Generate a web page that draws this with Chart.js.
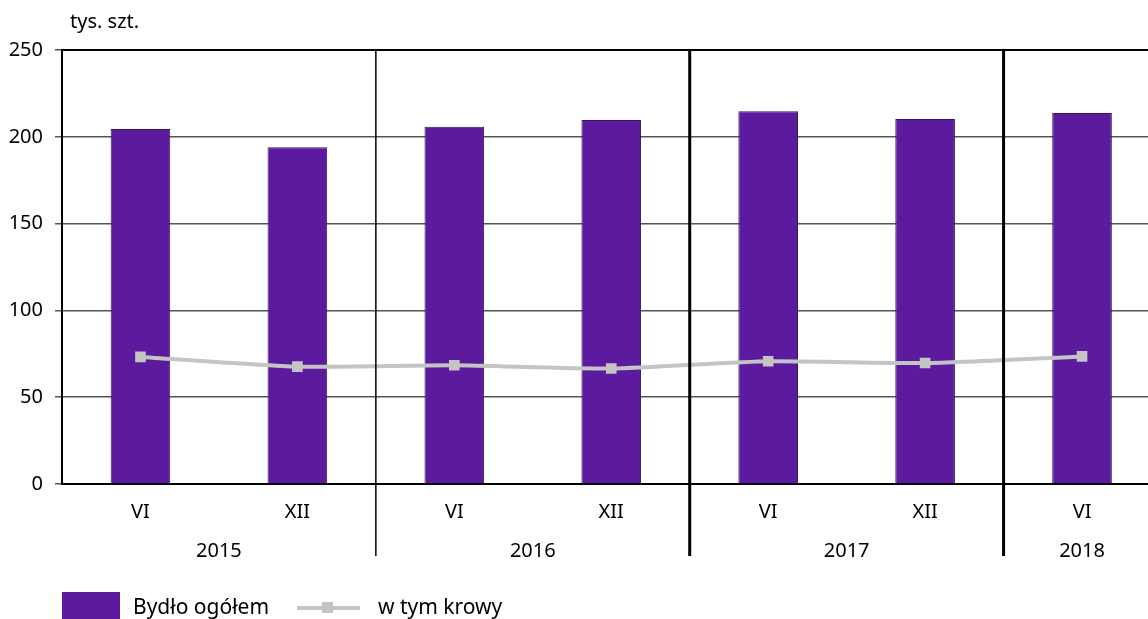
<!DOCTYPE html>
<html>
<head>
<meta charset="utf-8">
<script src="https://cdn.jsdelivr.net/npm/chart.js@4/dist/chart.umd.min.js"></script>
<style>
  html, body { margin: 0; padding: 0; background: #fff; overflow: hidden; }
  #wrap { width: 1168px; height: 619px; position: relative; }
</style>
</head>
<body>
<div id="wrap"><canvas id="chart"></canvas></div>
<script>
const months = ['VI', 'XII', 'VI', 'XII', 'VI', 'XII', 'VI'];
const years = ['2015', '2016', '2017', '2018'];
const yearSpans = [2, 2, 2, 1];
const cattleTotal = [204.5, 194.0, 205.8, 209.7, 214.7, 210.3, 213.7];
const cows = [73.2, 67.6, 68.4, 66.5, 70.7, 69.7, 73.5];
const yTicks = [0, 50, 100, 150, 200, 250];

const FONT = '"Noto Sans", "Open Sans", sans-serif';
const barColor = '#5c1a9e';
const lineColor = '#c4c4c4';
const LABEL_BARS = 'Bydło ogółem';
const LABEL_LINE = 'w tym krowy';

const extras = {
    id: 'extras',
    beforeDatasetsDraw(chart) {
        const { ctx, chartArea: a } = chart;
        ctx.save();
        ctx.strokeStyle = '#000';
        ctx.lineWidth = 2;
        ctx.beginPath();
        ctx.moveTo(a.left, a.top);
        ctx.lineTo(a.right, a.top);
        ctx.stroke();
        ctx.restore();
    },
    afterDraw(chart) {
        const { ctx, chartArea: a } = chart;
        const x = chart.scales.x;
        ctx.save();
        ctx.fillStyle = '#000';
        ctx.font = '20px ' + FONT;
        ctx.textBaseline = 'middle';
        ctx.textAlign = 'left';
        ctx.fillText('tys. szt.', 70, 22);

        // year separators and labels
        const widths = [1.5, 3, 3];
        let idx = 0;
        years.forEach((yr, i) => {
            const first = idx, last = idx + yearSpans[i] - 1;
            const cx = (x.getPixelForValue(first) + x.getPixelForValue(last)) / 2;
            ctx.font = '20px ' + FONT;
            ctx.textAlign = 'center';
            ctx.fillText(yr, cx, 551);
            idx += yearSpans[i];
            if (i < years.length - 1) {
                const sx = (x.getPixelForValue(idx - 1) + x.getPixelForValue(idx)) / 2;
                ctx.lineWidth = widths[i];
                ctx.strokeStyle = '#000';
                ctx.beginPath();
                ctx.moveTo(sx, a.top - 1);
                ctx.lineTo(sx, 556);
                ctx.stroke();
            }
        });

        // legend
        ctx.fillStyle = barColor;
        ctx.fillRect(62, 592, 58, 28);
        ctx.fillStyle = '#000';
        ctx.textAlign = 'left';
        ctx.font = '21px ' + FONT;
        ctx.fillText(LABEL_BARS, 133, 608);
        ctx.strokeStyle = lineColor;
        ctx.lineWidth = 4;
        ctx.beginPath();
        ctx.moveTo(297, 608);
        ctx.lineTo(360, 608);
        ctx.stroke();
        ctx.fillStyle = lineColor;
        ctx.fillRect(322, 602, 11, 11);
        ctx.fillStyle = '#000';
        ctx.fillText(LABEL_LINE, 378, 608);
        ctx.restore();
    }
};

new Chart(document.getElementById('chart'), {
    type: 'bar',
    data: {
        labels: months,
        datasets: [
            {
                type: 'line',
                label: LABEL_LINE,
                data: cows,
                borderColor: lineColor,
                backgroundColor: lineColor,
                borderWidth: 4,
                tension: 0.2,
                pointStyle: 'rect',
                pointRadius: 7.5,
                pointHoverRadius: 7.5,
                pointBorderWidth: 0,
                order: 0
            },
            {
                label: LABEL_BARS,
                data: cattleTotal,
                backgroundColor: barColor,
                borderColor: '#35155e',
                borderWidth: 1,
                barPercentage: 0.38,
                categoryPercentage: 1,
                order: 1
            }
        ]
    },
    options: {
        responsive: true,
        maintainAspectRatio: false,
        animation: false,
        devicePixelRatio: 1,
        layout: { padding: { top: 50, left: 0, right: 0, bottom: 0 } },
        plugins: { legend: { display: false }, tooltip: { enabled: false }, title: { display: false } },
        scales: {
            x: {
                offset: true,
                afterFit: s => { s.height = 135; },
                grid: { display: false, drawTicks: false },
                border: { color: '#000', width: 2 },
                ticks: { color: '#000', padding: 16, font: { family: FONT, size: 20 } }
            },
            y: {
                min: 0,
                max: 250,
                afterFit: s => { s.width = 62; },
                afterBuildTicks: s => { s.ticks = yTicks.map(v => ({ value: v })); },
                grid: { color: '#555', lineWidth: 1.5, tickLength: 7, tickColor: '#555' },
                border: { color: '#000', width: 2 },
                ticks: { color: '#000', padding: 12, font: { family: FONT, size: 20 } }
            }
        }
    },
    plugins: [extras]
});
</script>
</body>
</html>
